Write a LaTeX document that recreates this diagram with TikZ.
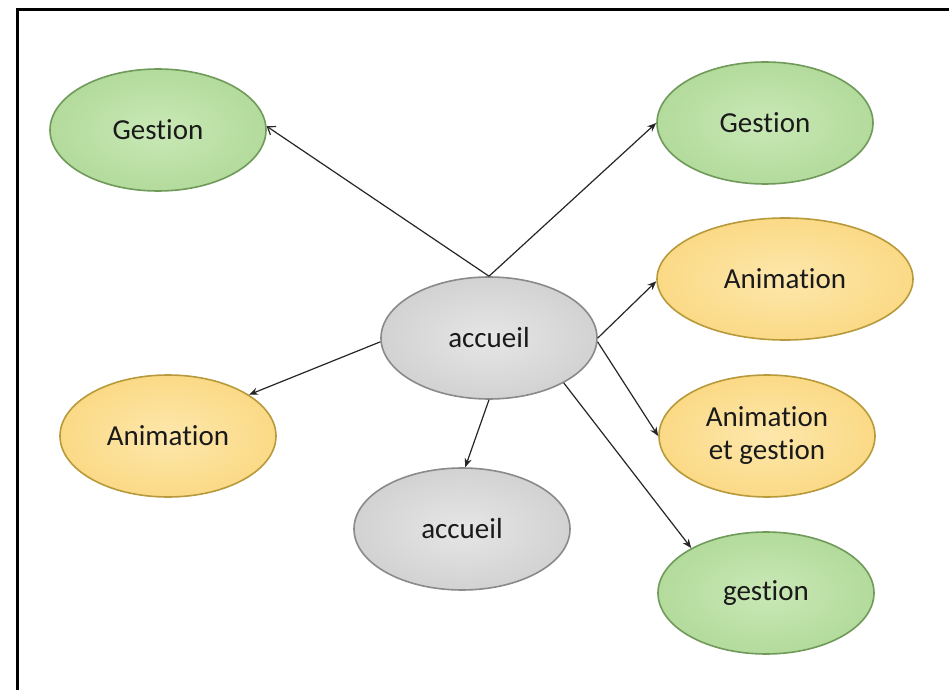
\documentclass[tikz,border=0pt]{standalone}
\usepackage{fontspec}
\setmainfont{Carlito}[Ligatures=CommonOff]
\usetikzlibrary{shapes.geometric,arrows.meta}
\definecolor{gfill}{HTML}{B3DB9C}
\definecolor{gin}{HTML}{C9E8B6}
\definecolor{gline}{HTML}{6F9A5A}
\definecolor{yfill}{HTML}{FBDA86}
\definecolor{yin}{HTML}{FDE7AC}
\definecolor{yline}{HTML}{B89A3C}
\definecolor{sfill}{HTML}{D2D2D2}
\definecolor{sin}{HTML}{E6E6E6}
\definecolor{sline}{HTML}{8A8A8A}
\definecolor{txt}{HTML}{1A1A1A}
\tikzset{
  bubble/.style={ellipse, inner sep=0pt, minimum width=108pt, minimum height=61pt,
    line width=0.8pt, text=txt, align=center,
    font=\fontsize{14.5}{16.5}\selectfont},
  greenb/.style={bubble, draw=gline, inner color=gin, outer color=gfill},
  yellowb/.style={bubble, draw=yline, inner color=yin, outer color=yfill},
  greyb/.style={bubble, draw=sline, inner color=sin, outer color=sfill},
  conn/.style={line width=0.6pt, draw=black!85, -{Stealth[length=4.5pt,width=3.6pt]}},
  connopen/.style={line width=0.6pt, draw=black!85, -{Straight Barb[length=3.5pt,width=5pt]}}
}
\begin{document}
\begin{tikzpicture}[x=0.5pt,y=-0.5pt]
\useasboundingbox (0,0) rectangle (949,690);
\fill[white] (0,0) rectangle (949,690);
\draw[line width=1.5pt] (17,690) -- (17,10) -- (949,10);

\node[greenb] (gTL) at (158,130) {Gestion};
\node[greenb] (gTR) at (765,123) {Gestion};
\node[yellowb, minimum width=128pt] (aR) at (785,279) {Animation};
\node[greyb] (acc) at (489,338) {accueil};
\node[yellowb] (aL) at (168,436) {Animation};
\node[greyb] (accB) at (462,529) {accueil};
\node[yellowb] (aeg) at (767,436) {Animation\\et gestion};
\node[greenb] (g) at (766,593) {gestion};

\draw[connopen] (acc.north) -- (gTL.2);
\draw[conn] (acc.north) -- (gTR.west);
\draw[conn] (acc.east) -- (aR.181);
\draw[conn] (acc.358) -- (aeg.west);
\draw[conn] (acc.-31) -- (g.149);
\draw[conn] (acc.182) -- (aL.27);
\draw[conn] (acc.south) -- (accB.87);
\end{tikzpicture}
\end{document}
